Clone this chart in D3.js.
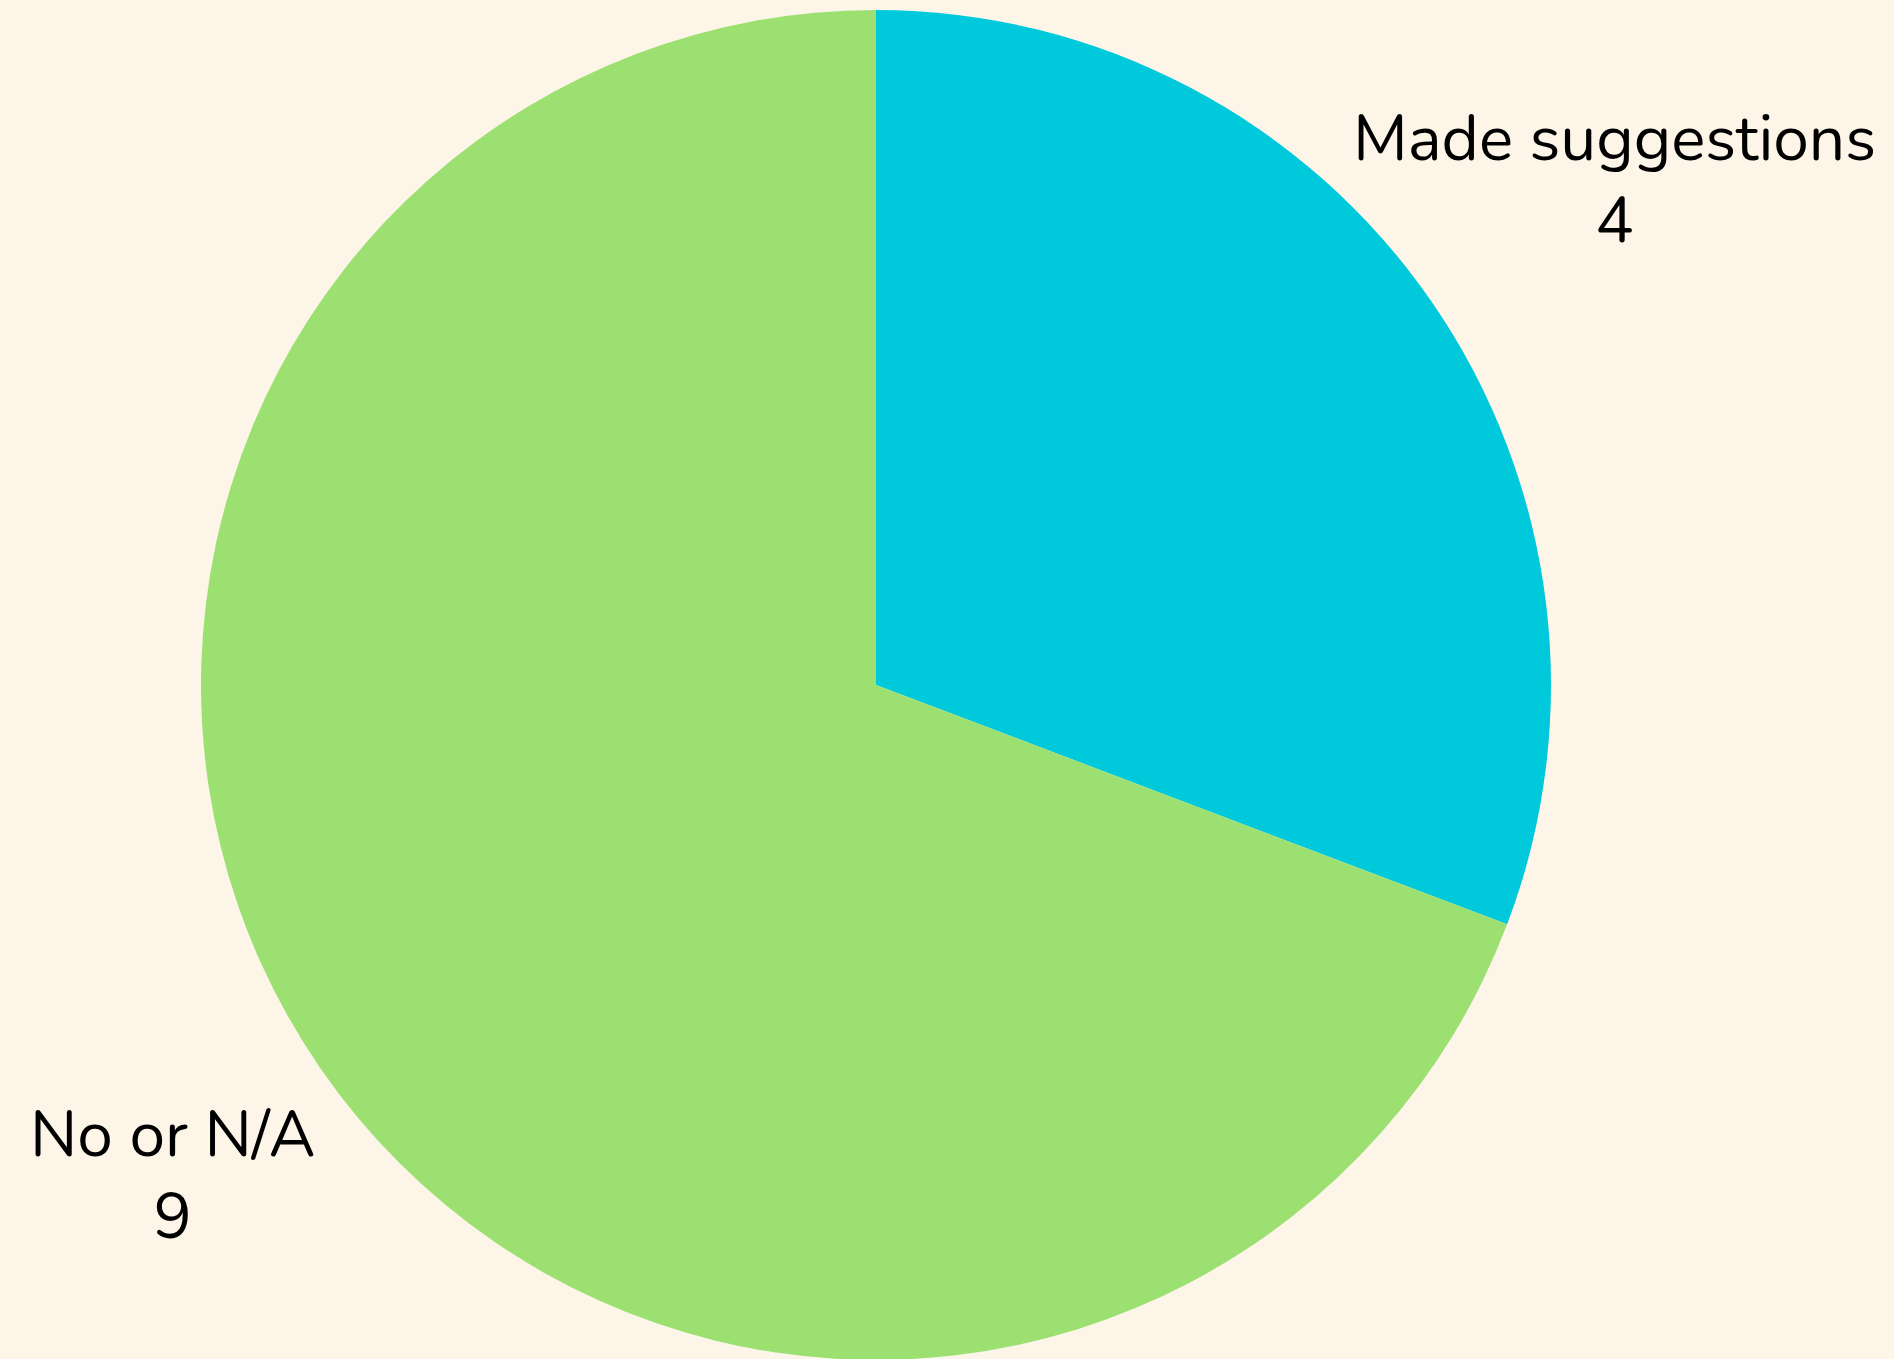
<!DOCTYPE html>
<html>
<head>
<meta charset="utf-8">
<script src="https://cdn.jsdelivr.net/npm/d3@7"></script>
<style>
  html, body { margin: 0; padding: 0; background: #fef5e9; overflow: hidden; }
</style>
</head>
<body>
<div id="chart"></div>
<script>
// data
const labels = ['Made suggestions', 'No or N/A'];
const counts = [4, 9];
const colors = ['#00c9db', '#9ce071'];

const width = 1894;
const height = 1359;
const cx = 876, cy = 685;
const radius = 675;

const svg = d3.select('#chart')
  .append('svg')
  .attr('width', width)
  .attr('height', height)
  .style('display', 'block')
  .style('background', '#fef5e9');

const pie = d3.pie().sort(null).value(d => d);
const arcs = pie(counts);

const arc = d3.arc().innerRadius(0).outerRadius(radius);
// labels sit a bit further out sideways than vertically
const labelArcX = d3.arc().innerRadius(radius * 1.33).outerRadius(radius * 1.33);
const labelArcY = d3.arc().innerRadius(radius * 1.3).outerRadius(radius * 1.3);

const g = svg.append('g').attr('transform', `translate(${cx},${cy})`);

g.selectAll('path')
  .data(arcs)
  .enter()
  .append('path')
  .attr('d', arc)
  .attr('fill', (d, i) => colors[i]);

// labels, kept inside the page
const fontSize = 64;
const lineGap = 82;
const txt = g.selectAll('text.lbl')
  .data(arcs)
  .enter()
  .append('text')
  .attr('class', 'lbl')
  .attr('text-anchor', 'middle')
  .style('font-family', 'Nunito, Lato, sans-serif')
  .style('font-size', fontSize + 'px')
  .style('fill', '#000');

txt.append('tspan')
  .attr('x', 0)
  .attr('dy', 0)
  .text((d, i) => labels[i]);
txt.append('tspan')
  .attr('x', 0)
  .attr('dy', lineGap)
  .text(d => d.value);

txt.each(function (d) {
  const el = d3.select(this);
  let x = labelArcX.centroid(d)[0];
  const y = labelArcY.centroid(d)[1];
  const bb = this.getBBox();
  // centre the two-line block vertically on the anchor
  const shiftY = y - (bb.y + bb.height / 2) - 7;
  let left = cx + x - bb.width / 2;
  let right = cx + x + bb.width / 2;
  if (left < 30) x += 30 - left;
  if (right > width - 18) x -= right - (width - 18);
  el.attr('transform', `translate(${x},${shiftY})`);
});
</script>
</body>
</html>
